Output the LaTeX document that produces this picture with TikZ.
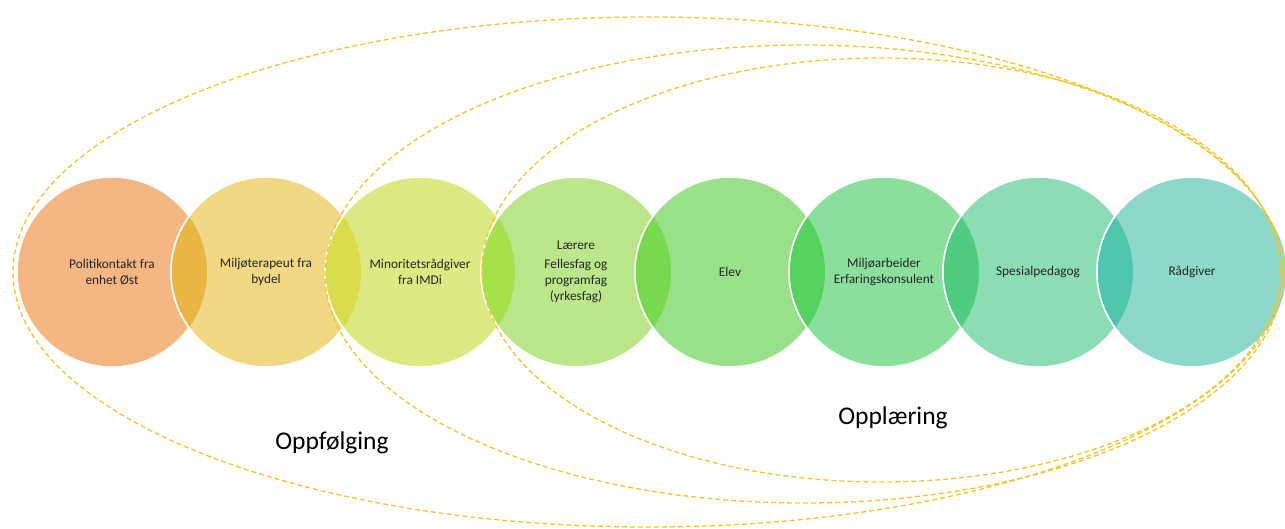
\documentclass[tikz,border=0pt]{standalone}
\usepackage{fontspec}
\setmainfont{Carlito}
\definecolor{ringgold}{RGB}{242,196,44}
\definecolor{textgray}{RGB}{38,38,38}
\definecolor{c1}{RGB}{244,182,131}
\definecolor{c2}{RGB}{240,216,132}
\definecolor{c3}{RGB}{221,234,132}
\definecolor{c4}{RGB}{187,230,138}
\definecolor{c5}{RGB}{152,224,138}
\definecolor{c6}{RGB}{139,223,156}
\definecolor{c7}{RGB}{141,221,180}
\definecolor{c8}{RGB}{140,217,204}
\definecolor{l12}{RGB}{233,181,68}
\definecolor{l23}{RGB}{217,220,75}
\definecolor{l34}{RGB}{166,224,74}
\definecolor{l45}{RGB}{120,217,78}
\definecolor{l56}{RGB}{85,211,94}
\definecolor{l67}{RGB}{79,203,130}
\definecolor{l78}{RGB}{78,197,172}

\begin{document}
\begin{tikzpicture}[x=1pt, y=-1pt, circle node/.style={circle, draw=white, line width=1.5pt, minimum size=190pt, inner sep=0pt, align=center, text=textgray, font=\fontsize{13.3}{16}\selectfont}, ring/.style={draw=ringgold, line width=1.3pt, dash pattern=on 5pt off 3pt}, lens edge/.style={draw=white, line width=1.5pt}, group label/.style={font=\fontsize{25.5}{30}\selectfont, text=black}]
\useasboundingbox (0,0) rectangle (1285,528);

% the eight roles
\node [circle node, fill=c1] (c1) at (112,272) {Politikontakt fra\\enhet Øst};
\node [circle node, fill=c2] (c2) at (266,272) {Miljøterapeut fra\\bydel};
\node [circle node, fill=c3] (c3) at (420,272) {Minoritetsrådgiver\\fra IMDi};
\node [circle node, fill=c4] (c4) at (576,272) {Lærere\\[3pt]Fellesfag og\\programfag\\(yrkesfag)};
\node [circle node, fill=c5] (c5) at (730,272) {Elev};
\node [circle node, fill=c6] (c6) at (884,272) {Miljøarbeider\\Erfaringskonsulent};
\node [circle node, fill=c7] (c7) at (1038,272) {Spesialpedagog};
\node [circle node, fill=c8] (c8) at (1192,272) {Rådgiver};

% overlaps
\begin{scope} \clip (c1.center) circle (95pt); \fill [l12] (c2.center) circle (95pt); \draw [lens edge] (c2.center) circle (95pt); \end{scope}
\begin{scope} \clip (c2.center) circle (95pt); \fill [l23] (c3.center) circle (95pt); \draw [lens edge] (c3.center) circle (95pt); \end{scope}
\begin{scope} \clip (c3.center) circle (95pt); \fill [l34] (c4.center) circle (95pt); \draw [lens edge] (c4.center) circle (95pt); \end{scope}
\begin{scope} \clip (c4.center) circle (95pt); \fill [l45] (c5.center) circle (95pt); \draw [lens edge] (c5.center) circle (95pt); \end{scope}
\begin{scope} \clip (c5.center) circle (95pt); \fill [l56] (c6.center) circle (95pt); \draw [lens edge] (c6.center) circle (95pt); \end{scope}
\begin{scope} \clip (c6.center) circle (95pt); \fill [l67] (c7.center) circle (95pt); \draw [lens edge] (c7.center) circle (95pt); \end{scope}
\begin{scope} \clip (c7.center) circle (95pt); \fill [l78] (c8.center) circle (95pt); \draw [lens edge] (c8.center) circle (95pt); \end{scope}

% groups
\draw [ring] (648,272) ellipse (635pt and 255pt);
\draw [ring] (804,274) ellipse (479pt and 229pt);
\draw [ring] (881,270) ellipse (399pt and 212pt);

\node [group label] (oppfolging) at (332,443) {Oppfølging};
\node [group label] (opplaering) at (893,418) {Opplæring};
\end{tikzpicture}
\end{document}
